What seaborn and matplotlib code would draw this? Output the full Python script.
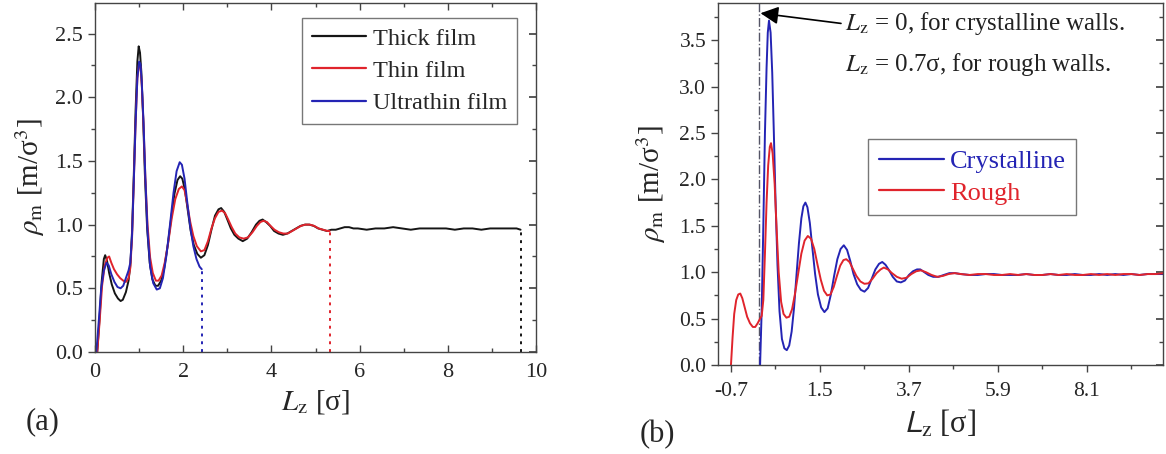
import numpy as np
import pandas as pd
import matplotlib
matplotlib.use("Agg")
import matplotlib.pyplot as plt
import seaborn as sns
from matplotlib.ticker import MultipleLocator, FixedLocator

# ---------------- data: panel (a) ----------------
thick_x = [0.05, 0.10, 0.15, 0.20, 0.23, 0.27, 0.32, 0.38, 0.45, 0.52, 0.58, 0.63, 0.70, 0.76, 0.80,
           0.84, 0.88, 0.92, 0.96, 0.99, 1.02, 1.05, 1.09, 1.13, 1.18, 1.24, 1.30, 1.37, 1.43, 1.50,
           1.57, 1.65, 1.73, 1.80, 1.87, 1.93, 1.98, 2.04, 2.10, 2.17, 2.24, 2.32, 2.40, 2.48, 2.56,
           2.64, 2.72, 2.80, 2.86, 2.93, 3.00, 3.08, 3.16, 3.25, 3.35, 3.45, 3.55, 3.65, 3.73, 3.80,
           3.88, 3.97, 4.06, 4.16, 4.26, 4.36, 4.46, 4.56, 4.66, 4.76, 4.86, 4.96, 5.06, 5.16, 5.26,
           5.36, 5.46, 5.56, 5.66, 5.76, 5.86, 5.96, 6.16, 6.36, 6.56, 6.76, 6.96, 7.16, 7.36, 7.56,
           7.76, 7.96, 8.16, 8.36, 8.56, 8.76, 8.96, 9.16, 9.36, 9.56, 9.65]
thick_y = [0.00, 0.25, 0.55, 0.73, 0.76, 0.72, 0.62, 0.53, 0.46, 0.42, 0.40, 0.41, 0.47, 0.56, 0.68,
           0.95, 1.40, 1.90, 2.28, 2.40, 2.35, 2.20, 1.85, 1.40, 0.98, 0.70, 0.57, 0.52, 0.52, 0.56,
           0.66, 0.84, 1.06, 1.24, 1.35, 1.38, 1.36, 1.27, 1.12, 0.95, 0.84, 0.77, 0.74, 0.76, 0.84,
           0.96, 1.07, 1.12, 1.13, 1.10, 1.04, 0.97, 0.92, 0.89, 0.87, 0.89, 0.94, 1.00, 1.03, 1.04,
           1.02, 0.99, 0.95, 0.93, 0.92, 0.93, 0.95, 0.97, 0.99, 1.00, 1.00, 0.99, 0.97, 0.96, 0.95,
           0.96, 0.96, 0.97, 0.98, 0.98, 0.97, 0.97, 0.96, 0.97, 0.97, 0.98, 0.97, 0.96, 0.97, 0.97,
           0.97, 0.97, 0.96, 0.97, 0.97, 0.96, 0.97, 0.97, 0.97, 0.97, 0.96]

thin_x = [0.05, 0.10, 0.16, 0.22, 0.28, 0.32, 0.37, 0.43, 0.50, 0.57, 0.64, 0.70, 0.76, 0.80, 0.84,
          0.88, 0.92, 0.96, 1.00, 1.03, 1.06, 1.10, 1.14, 1.19, 1.25, 1.31, 1.38, 1.44, 1.51, 1.58,
          1.66, 1.74, 1.82, 1.90, 1.97, 2.03, 2.09, 2.16, 2.23, 2.31, 2.40, 2.48, 2.56, 2.64, 2.72,
          2.80, 2.88, 2.95, 3.02, 3.10, 3.18, 3.27, 3.37, 3.47, 3.57, 3.67, 3.75, 3.82, 3.90, 3.98,
          4.07, 4.17, 4.27, 4.37, 4.47, 4.57, 4.67, 4.77, 4.87, 4.97, 5.07, 5.17, 5.27, 5.32]
thin_y = [0.00, 0.22, 0.52, 0.68, 0.74, 0.75, 0.70, 0.65, 0.61, 0.58, 0.56, 0.55, 0.58, 0.66, 0.90,
          1.35, 1.80, 2.15, 2.27, 2.24, 2.10, 1.78, 1.38, 1.00, 0.74, 0.62, 0.56, 0.56, 0.60, 0.70,
          0.86, 1.05, 1.20, 1.28, 1.30, 1.27, 1.16, 1.02, 0.91, 0.83, 0.79, 0.80, 0.87, 0.97, 1.05,
          1.10, 1.11, 1.09, 1.04, 0.98, 0.93, 0.90, 0.89, 0.90, 0.94, 0.99, 1.02, 1.03, 1.02, 0.99,
          0.96, 0.94, 0.93, 0.93, 0.95, 0.97, 0.99, 1.00, 1.00, 0.99, 0.97, 0.96, 0.95, 0.95]

ultra_x = [0.03, 0.08, 0.14, 0.20, 0.26, 0.31, 0.37, 0.44, 0.51, 0.58, 0.64, 0.70, 0.76, 0.80, 0.84,
           0.88, 0.92, 0.96, 1.00, 1.03, 1.06, 1.10, 1.14, 1.19, 1.25, 1.32, 1.40, 1.47, 1.54, 1.62,
           1.70, 1.78, 1.85, 1.92, 1.97, 2.03, 2.09, 2.16, 2.23, 2.30, 2.37, 2.42]
ultra_y = [0.00, 0.22, 0.50, 0.64, 0.70, 0.68, 0.61, 0.55, 0.51, 0.50, 0.52, 0.58, 0.64, 0.70, 0.92,
           1.35, 1.80, 2.15, 2.28, 2.26, 2.12, 1.80, 1.38, 0.95, 0.67, 0.54, 0.49, 0.50, 0.58, 0.76,
           1.00, 1.25, 1.42, 1.49, 1.47, 1.36, 1.18, 0.98, 0.83, 0.73, 0.67, 0.65]

film_labels = ["Thick film", "Thin film", "Ultrathin film"]
film_end_x = [9.65, 5.32, 2.42]
film_end_y = [0.96, 0.95, 0.65]

# ---------------- data: panel (b) ----------------
cryst_x = [0.02, 0.06, 0.10, 0.14, 0.18, 0.21, 0.24, 0.28, 0.32, 0.36, 0.40, 0.45, 0.50, 0.56, 0.62,
           0.68, 0.74, 0.80, 0.86, 0.92, 0.98, 1.04, 1.09, 1.14, 1.19, 1.25, 1.31, 1.38, 1.45, 1.53,
           1.61, 1.69, 1.77, 1.85, 1.93, 2.01, 2.09, 2.17, 2.25, 2.33, 2.42, 2.51, 2.60, 2.69, 2.78,
           2.87, 2.96, 3.04, 3.12, 3.21, 3.30, 3.40, 3.50, 3.60, 3.70, 3.80, 3.90, 3.98, 4.08, 4.18,
           4.30, 4.43, 4.56, 4.70, 4.84, 4.98, 5.2, 5.4, 5.6, 5.8, 6.0, 6.2, 6.4, 6.6, 6.8, 7.0, 7.2,
           7.4, 7.6, 7.8, 8.0, 8.2, 8.4, 8.6, 8.8, 9.0, 9.2, 9.4, 9.6, 9.8, 10.0]
cryst_y = [0.00, 0.60, 1.50, 2.50, 3.20, 3.58, 3.71, 3.58, 3.15, 2.50, 1.80, 1.08, 0.58, 0.28, 0.18,
           0.16, 0.21, 0.36, 0.62, 0.97, 1.31, 1.58, 1.71, 1.75, 1.70, 1.53, 1.27, 0.98, 0.76, 0.62,
           0.57, 0.61, 0.76, 0.96, 1.14, 1.25, 1.29, 1.24, 1.12, 0.98, 0.87, 0.81, 0.79, 0.83, 0.93,
           1.03, 1.09, 1.11, 1.08, 1.02, 0.95, 0.90, 0.89, 0.91, 0.97, 1.01, 1.03, 1.03, 1.00, 0.97,
           0.95, 0.95, 0.97, 0.99, 0.99, 0.98, 0.97, 0.97, 0.98, 0.98, 0.97, 0.97, 0.97, 0.98, 0.97,
           0.97, 0.98, 0.97, 0.97, 0.98, 0.97, 0.97, 0.98, 0.97, 0.98, 0.97, 0.98, 0.97, 0.98, 0.98, 0.98]

rough_x = [-0.70, -0.66, -0.62, -0.57, -0.52, -0.47, -0.42, -0.36, -0.30, -0.23, -0.16, -0.10, -0.04,
           0.02, 0.06, 0.10, 0.14, 0.18, 0.22, 0.26, 0.29, 0.33, 0.38, 0.43, 0.48, 0.54, 0.60, 0.67,
           0.74, 0.81, 0.88, 0.96, 1.04, 1.12, 1.20, 1.28, 1.36, 1.44, 1.52, 1.60, 1.68, 1.76, 1.84,
           1.92, 2.00, 2.08, 2.15, 2.23, 2.31, 2.40, 2.50, 2.60, 2.70, 2.80, 2.90, 3.00, 3.08, 3.18,
           3.28, 3.40, 3.52, 3.64, 3.76, 3.88, 4.00, 4.12, 4.26, 4.40, 4.54, 4.68, 4.83, 4.98, 5.2,
           5.4, 5.6, 5.8, 6.0, 6.2, 6.4, 6.6, 6.8, 7.0, 7.2, 7.4, 7.6, 7.8, 8.0, 8.2, 8.4, 8.6, 8.8,
           9.0, 9.2, 9.4, 9.6, 9.8, 10.0]
rough_y = [0.00, 0.30, 0.55, 0.70, 0.76, 0.77, 0.72, 0.62, 0.52, 0.45, 0.41, 0.41, 0.45,
           0.50, 0.53, 0.70, 1.20, 1.75, 2.15, 2.35, 2.39, 2.28, 1.95, 1.45, 1.00, 0.68, 0.55, 0.51,
           0.52, 0.60, 0.76, 0.98, 1.20, 1.34, 1.39, 1.36, 1.25, 1.08, 0.92, 0.80, 0.75, 0.76, 0.84,
           0.96, 1.07, 1.13, 1.14, 1.11, 1.04, 0.96, 0.90, 0.875, 0.88, 0.93, 0.99, 1.03, 1.05, 1.03,
           0.99, 0.95, 0.93, 0.94, 0.98, 1.01, 1.02, 1.00, 0.97, 0.95, 0.96, 0.98, 0.99, 0.98, 0.97,
           0.98, 0.98, 0.97, 0.97, 0.98, 0.97, 0.98, 0.97, 0.97, 0.98, 0.97, 0.98, 0.97, 0.97, 0.98,
           0.97, 0.98, 0.97, 0.98, 0.98, 0.97, 0.98, 0.98, 0.99]

wall_labels = ["Crystalline", "Rough"]
b_xticks = [-0.7, 1.5, 3.7, 5.9, 8.1]

# ---------------- style ----------------
sns.set_theme(style="ticks")
plt.rcParams["font.family"] = ["Liberation Serif", "DejaVu Serif"]
plt.rcParams["mathtext.fontset"] = "stix"

BLACK = "#151515"
RED = "#e0242c"
BLUE = "#2424b4"
SPINE = "#444444"

fig = plt.figure(figsize=(11.66, 4.54), dpi=100)
ax1 = fig.add_axes([0.0815, 0.2247, 0.3782, 0.7687])
ax2 = fig.add_axes([0.6158, 0.196, 0.3816, 0.7974])

# ---- panel (a) ----
for xs, ys, c, lab in [(thick_x, thick_y, BLACK, film_labels[0]),
                       (thin_x, thin_y, RED, film_labels[1]),
                       (ultra_x, ultra_y, BLUE, film_labels[2])]:
    sns.lineplot(x=xs, y=ys, ax=ax1, color=c, lw=1.4, label=lab,
                 estimator=None, sort=False)
for ex, ey, c in zip(film_end_x, film_end_y, [BLACK, RED, BLUE]):
    ax1.plot([ex, ex], [0, ey], color=c, ls=(0, (1.5, 2.5)), lw=1.4)

ax1.set_xlim(0, 10)
ax1.set_ylim(0, 2.74)
ax1.xaxis.set_major_locator(MultipleLocator(2))
ax1.xaxis.set_minor_locator(MultipleLocator(1))
ax1.yaxis.set_major_locator(MultipleLocator(0.5))
ax1.yaxis.set_minor_locator(MultipleLocator(0.25))
ax1.yaxis.set_major_formatter(matplotlib.ticker.FormatStrFormatter("%.1f"))
ax1.tick_params(axis="x", which="both", direction="in", top=True, bottom=True, labelsize=16, pad=8)
ax1.tick_params(axis="y", which="both", direction="out", left=True, labelsize=16)
ax1.tick_params(which="major", length=5, color=SPINE, width=1)
ax1.tick_params(which="minor", length=3, color=SPINE, width=1)
ax1.set_xlabel(r"$L_{\rm z}$ [σ]", fontsize=21, labelpad=4)
ax1.set_ylabel(r"$\rho_{\rm m}$ [m/σ$^3$]", fontsize=21, labelpad=6)
leg1 = ax1.legend(loc="upper right", bbox_to_anchor=(0.957, 0.957), fontsize=17.5,
                  frameon=True, fancybox=False, edgecolor="#777777", framealpha=1,
                  handlelength=2.2, borderaxespad=0, labelspacing=0.42, borderpad=0.4,
                  handletextpad=0.3)
leg1.get_frame().set_linewidth(1.0)
for line in leg1.get_lines():
    line.set_linewidth(1.6)

# right-side inward ticks for panel (a)
ax1r = ax1.secondary_yaxis("right")
ax1r.yaxis.set_major_locator(MultipleLocator(0.5))
ax1r.yaxis.set_minor_locator(MultipleLocator(0.25))
ax1r.tick_params(which="both", direction="in", labelright=False, color=SPINE)
ax1r.tick_params(which="major", length=5)
ax1r.tick_params(which="minor", length=3)
ax1r.spines["right"].set_visible(False)

fig.text(43 / 1166, 1 - 422 / 454, "(a)", fontsize=22, ha="center", va="center")

# ---- panel (b) ----
ax2.plot([0, 0], [0, 3.9], color="#555566", ls="-.", lw=1.0)
sns.lineplot(x=cryst_x, y=cryst_y, ax=ax2, color=BLUE, lw=1.4, label=wall_labels[0],
             estimator=None, sort=False)
sns.lineplot(x=rough_x, y=rough_y, ax=ax2, color=RED, lw=1.4, label=wall_labels[1],
             estimator=None, sort=False)

ax2.set_xlim(-1.02, 9.98)
ax2.set_ylim(0, 3.9)
ax2.xaxis.set_major_locator(FixedLocator(b_xticks))
ax2.xaxis.set_minor_locator(FixedLocator([v + 1.1 for v in b_xticks]))
ax2.yaxis.set_major_locator(MultipleLocator(0.5))
ax2.yaxis.set_minor_locator(MultipleLocator(0.25))
ax2.yaxis.set_major_formatter(matplotlib.ticker.FormatStrFormatter("%.1f"))
ax2.xaxis.set_major_formatter(matplotlib.ticker.FormatStrFormatter("%.1f"))
ax2.tick_params(axis="both", which="both", direction="out", labelsize=15.5)
ax2.tick_params(which="major", length=5, color=SPINE, width=1)
ax2.tick_params(which="minor", length=3, color=SPINE, width=1)
ax2.tick_params(axis="x", pad=7)
ax2r = ax2.secondary_yaxis("right")
ax2r.yaxis.set_major_locator(MultipleLocator(0.5))
ax2r.yaxis.set_minor_locator(MultipleLocator(0.25))
ax2r.tick_params(which="both", direction="in", labelright=False, color=SPINE)
ax2r.tick_params(which="major", length=5)
ax2r.tick_params(which="minor", length=3)
ax2r.spines["right"].set_visible(False)

ax2.set_xlabel(r"$\mathsf{L}_{\rm z}$ [σ]", fontsize=22, labelpad=6)
ax2.set_ylabel(r"$\rho_{\rm m}$ [m/σ$^3$]", fontsize=21, labelpad=8)
leg2 = ax2.legend(loc="upper left", bbox_to_anchor=(0.337, 0.624), fontsize=19,
                  frameon=True, fancybox=False, edgecolor="#777777", framealpha=1,
                  handlelength=2.5, borderaxespad=0, labelspacing=0.3, borderpad=0.4,
                  handletextpad=0.2)
leg2.get_frame().set_linewidth(1.0)
for txt, c in zip(leg2.get_texts(), [BLUE, RED]):
    txt.set_color(c)
for line in leg2.get_lines():
    line.set_linewidth(1.6)

ax2.annotate("", xy=(0.03, 3.79), xytext=(2.02, 3.68),
             arrowprops=dict(arrowstyle="-|>,head_length=0.9,head_width=0.45",
                             color="black", lw=1.2, shrinkA=0, shrinkB=0))
ax2.text(2.12, 3.68, r"$L_{\rm z}$ = 0, for crystalline walls.", fontsize=18,
         va="center", ha="left", color="#222222")
ax2.text(2.12, 3.24, r"$L_{\rm z}$ = 0.7σ, for rough walls.", fontsize=18,
         va="center", ha="left", color="#222222")

fig.text(657 / 1166, 1 - 435 / 454, "(b)", fontsize=22, ha="center", va="center")

for ax in (ax1, ax2):
    for s in ax.spines.values():
        s.set_color(SPINE)
        s.set_linewidth(1.0)
        s.set_visible(True)

fig.savefig("out.png", dpi=100)
